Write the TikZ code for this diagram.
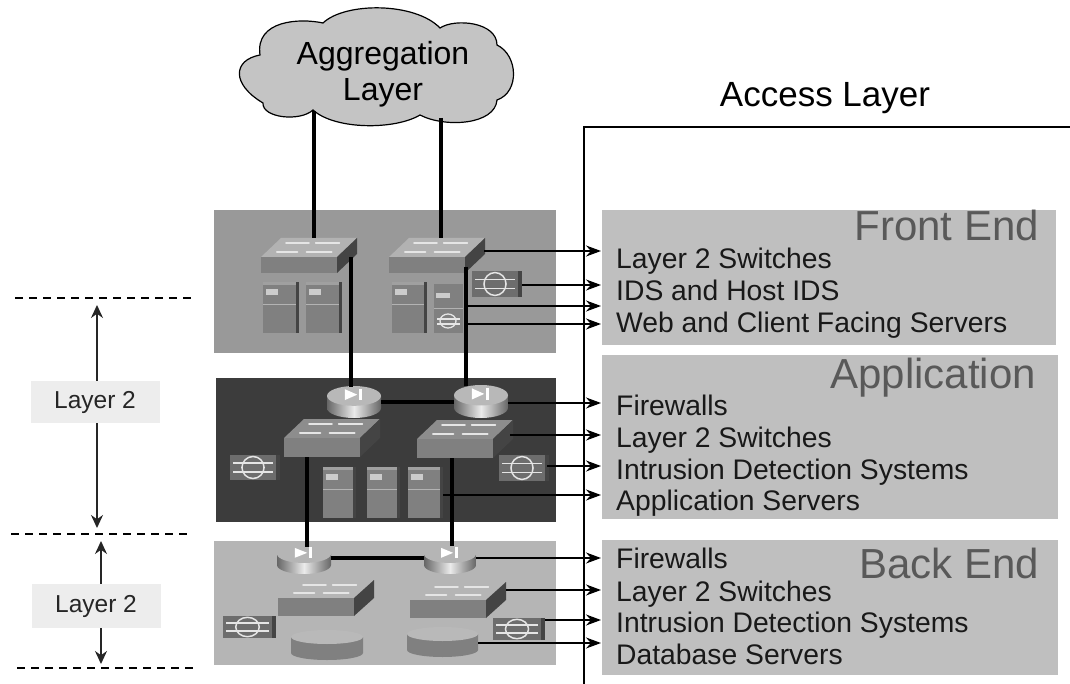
\documentclass[tikz,border=0pt]{standalone}
\usepackage{fontspec}
\setmainfont{Liberation Sans}
\usetikzlibrary{arrows.meta}
\definecolor{pfront}{HTML}{999999}
\definecolor{papp}{HTML}{3C3C3C}
\definecolor{pback}{HTML}{B5B5B5}
\definecolor{rpanel}{HTML}{BFBFBF}
\definecolor{devface}{HTML}{808080}
\definecolor{devside}{HTML}{444444}
\tikzset{
  thickline/.style={line width=3.8pt,black},
  conn/.style={line width=1.5pt,black,-{Stealth[length=15pt,width=11pt]}},
  dashline/.style={line width=2.6pt,black,dash pattern=on 8pt off 6pt},
  dim/.style={line width=1.5pt,black!85,{Stealth[length=13pt,width=12pt]}-{Stealth[length=13pt,width=12pt]}},
  listtext/.style={anchor=base west,font=\fontsize{28.3}{30}\selectfont,text=black!90,inner sep=0pt},
  headtext/.style={anchor=base east,font=\fontsize{42}{44}\selectfont,text=black!65,inner sep=0pt},
  wmark/.style={white!90!black,line width=1.9pt,line cap=round},
  labbox/.style={fill=black!7,minimum width=129pt,inner sep=0pt,font=\fontsize{24.5}{26}\selectfont,text=black!85},
}
\newcommand\panelbox[6]{\path[fill=#6] (#2,#3) rectangle (#4,#5);
  \coordinate (#1) at (#2,#3);}
% switch: name x y w h dx dy topcol
\newcommand\swt[8]{%
  \fill[#8] (#2,#3) -- ++(#4,0) -- ++(#6,-#7) -- ++(-#4,0) -- cycle;
  \fill[devface] (#2,#3) rectangle ++(#4,#5);
  \fill[devside] (#2+#4,#3) -- ++(#6,-#7) -- ++(0,#5) -- (#2+#4,#3+#5) -- cycle;
  \draw[wmark] (#2+0.21*#4,#3-0.27*#7) -- ++(0.27*#4,0) (#2+0.60*#4,#3-0.27*#7) -- ++(0.33*#4,0);
  \draw[wmark] (#2+0.33*#4,#3-0.74*#7) -- ++(0.30*#4,0) (#2+0.72*#4,#3-0.74*#7) -- ++(0.31*#4,0);
  \coordinate (#1) at (#2+0.5*#4,#3+0.5*#5);
}
% server: name x y w h
\newcommand\srv[5]{%
  \fill[devface] (#2,#3) rectangle ++(#4,#5);
  \fill[devface!75!white] (#2,#3) -- ++(#4,0) -- ++(0,3) -- ++(-#4,0) -- cycle;
  \fill[white!80!black] (#2+3,#3+7) rectangle ++(12,6);
  \draw[devface!60!white,line width=.8pt] (#2,#3+0.43*#5) -- ++(#4,0);
  \fill[devside] (#2+#4,#3) rectangle ++(3,#5);
  \coordinate (#1) at (#2+0.5*#4,#3+0.5*#5);
}
% ids: name x y w h
\newcommand\idsbox[5]{%
  \fill[devface!85!black] (#2,#3) rectangle ++(#4,#5);
  \fill[devside] (#2+#4,#3) rectangle ++(4,#5);
  \draw[white!90!black,line width=1.5pt] (#2+0.5*#4,#3+0.5*#5) ellipse ({0.24*#4} and {0.44*#5});
  \draw[white!90!black,line width=1.3pt] (#2+3,#3+0.32*#5) -- ++(#4-6,0) (#2+3,#3+0.68*#5) -- ++(#4-6,0);
  \coordinate (#1) at (#2+0.5*#4,#3+0.5*#5);
}
% router: name x y w h topcolour
\newcommand\rtr[6]{%
  \shade[left color=black!60,right color=black!60,middle color=white!92!black] (#2,#3+0.31*#5) -- (#2,#3+0.69*#5)
     arc[start angle=180,end angle=0,x radius=#4/2,y radius=0.31*#5] -- (#2+#4,#3+0.31*#5) -- cycle;
  \fill[#6] (#2+0.5*#4,#3+0.31*#5) ellipse ({#4/2} and {0.31*#5});
  \fill[white] (#2+0.33*#4,#3+0.10*#5) -- ++(0,0.34*#5) -- ++(0.23*#4,-0.17*#5) -- cycle;
  \fill[white] (#2+0.60*#4,#3+0.08*#5) rectangle ++(0.05*#4,0.36*#5);
  \coordinate (#1) at (#2+0.5*#4,#3+0.5*#5);
}
% database: name x y w h
\newcommand\dbase[5]{%
  \fill[devface] (#2,#3) -- ++(0,#5-7) arc[start angle=180,end angle=0,x radius=#4/2,y radius=7]
     -- (#2+#4,#3) -- cycle;
  \fill[pback!95!white] (#2+0.5*#4,#3) ellipse ({#4/2} and 7);
  \coordinate (#1) at (#2+0.5*#4,#3+0.5*#5);
}
\begin{document}
\begin{tikzpicture}[x=1pt,y=-1pt]
\useasboundingbox (0,0) rectangle (1070,684);
\fill[white] (0,0) rectangle (1070,684);

% access layer frame
\coordinate (frameTR) at (1070,127);
\coordinate (frameTL) at (584,127);
\coordinate (frameB) at (584,684);
\draw[line width=1.1pt] (frameTR) -- (frameTL) -- (frameB);
\node[anchor=base,inner sep=0pt,font=\fontsize{35}{37}\selectfont] (acc) at (825,107) {Access Layer};

% right panels
\panelbox{rfront}{602}{210}{1056}{345}{rpanel}
\panelbox{rapp}{602}{355}{1058}{519}{rpanel}
\panelbox{rback}{602}{540}{1058}{675}{rpanel}

% left panels
\panelbox{pf}{214}{210}{556}{353}{pfront}
\panelbox{pa}{216}{378}{556}{522}{papp}
\panelbox{pb}{214}{541}{556}{665}{pback}

% cloud
\fill[black!23,draw=black,line width=1.2pt]
 (260,55) .. controls (233,60) and (231,84) .. (263,103)
 .. controls (262,118) and (300,122) .. (313,110)
 .. controls (335,130) and (395,130) .. (420,115)
 .. controls (445,128) and (495,125) .. (497,100)
 .. controls (520,92) and (518,55) .. (497,45)
 .. controls (497,22) and (455,18) .. (440,28)
 .. controls (415,2) and (345,2) .. (323,23)
 .. controls (300,18) and (255,20) .. (260,55) -- cycle;
\node[align=center,inner sep=0pt,font=\fontsize{32}{36}\selectfont] (cloudtxt) at (383,74) {Aggregation\\Layer};
\coordinate (cloudA) at (314,111);
\coordinate (cloudB) at (441,118);

% devices: front panel
\swt{sw1}{261}{257}{76}{16}{20}{19}{pfront!75!white}
\swt{sw2}{389}{257}{76}{16}{20}{19}{pfront!75!white}
\srv{s1}{263}{282}{33}{51}
\srv{s2}{306}{282}{33}{51}
\srv{s3}{392}{282}{32}{51}
\fill[devface] (434,284) rectangle (463,333);
\fill[white!80!black] (436,293) rectangle (450,298);
\draw[white!70!black,line width=.8pt] (434,308) -- (463,308);
\draw[white!90!black,line width=1.3pt] (448,321) ellipse (8 and 7);
\draw[white!90!black,line width=1.2pt] (437,319) -- (460,319) (437,324) -- (460,324);
\idsbox{i1}{472}{271}{46}{26}

% app panel
\srv{s4}{323}{467}{30}{51}
\srv{s5}{367}{467}{30}{51}
\srv{s6}{408}{467}{32}{51}
\idsbox{i2}{230}{455}{46}{25}
\idsbox{i3}{499}{455}{46}{26}
\swt{sw3}{284}{438}{76}{19}{20}{19}{devface!90!white}
\swt{sw4}{417}{439}{76}{19}{20}{19}{devface!90!white}
\rtr{r1}{327}{386}{54}{32}{white!72!black}
\rtr{r2}{454}{385}{54}{33}{white!72!black}

% back panel
\swt{sw5}{278}{598}{76}{18}{20}{18}{pback}
\swt{sw6}{410}{600}{76}{18}{20}{18}{pback}
\dbase{d1}{291}{637}{72}{23}
\dbase{d2}{407}{634}{71}{23}
\idsbox{i4}{223}{616}{49}{22}
\idsbox{i5}{493}{618}{48}{22}
\rtr{r3}{277}{545}{54}{29}{pback}
\rtr{r4}{424}{545}{52}{29}{pback}

% thick links
\coordinate (sw1t) at (314,238);
\coordinate (sw2t) at (441,238);
\draw[thickline] (cloudA) -- (sw1t);
\draw[thickline] (cloudB) -- (sw2t);
\coordinate (sw1b) at (351,257);
\coordinate (sw2b) at (466,267);
\coordinate (r1t) at (351,387);
\coordinate (r2t) at (466,386);
\draw[thickline] (sw1b) -- (r1t);
\draw[thickline] (sw2b) -- (r2t);
\coordinate (r1e) at (381,402);
\coordinate (r2w) at (454,402);
\draw[thickline] (r1e) -- (r2w);
\coordinate (sw3b) at (307,457);
\coordinate (sw4b) at (452,458);
\coordinate (r3t) at (307,547);
\coordinate (r4t) at (452,546);
\draw[thickline] (sw3b) -- (r3t);
\draw[thickline] (sw4b) -- (r4t);
\coordinate (r3e) at (331,558);
\coordinate (r4w) at (424,558);
\draw[thickline] (r3e) -- (r4w);

% arrows
\foreach \nm/\x/\y in {a1/484/251,a2/522/285,a3/466/306,a4/466/324,
                       b1/508/403,b2/510/435,b3/547/466,b4/443/495,
                       c1/476/558,c2/506/590,c3/545/620,c4/478/643}{
  \coordinate (\nm s) at (\x,\y);
  \coordinate (\nm e) at (601,\y);
  \draw[conn] (\nm s) -- (\nm e);
}

% right panel texts
\node[headtext] (h1) at (1039,241) {Front End};
\node[listtext] (t11) at (616,269) {Layer 2 Switches};
\node[listtext] (t12) at (616,301) {IDS and Host IDS};
\node[listtext] (t13) at (616,332) {Web and Client Facing Servers};
\node[headtext] (h2) at (1036,388) {Application};
\node[listtext] (t21) at (616,415) {Firewalls};
\node[listtext] (t22) at (616,447) {Layer 2 Switches};
\node[listtext] (t23) at (616,479) {Intrusion Detection Systems};
\node[listtext] (t24) at (616,510) {Application Servers};
\node[listtext] (t31) at (616,568) {Firewalls};
\node[headtext] (h3) at (1039,578) {Back End};
\node[listtext] (t32) at (616,601) {Layer 2 Switches};
\node[listtext] (t33) at (616,632) {Intrusion Detection Systems};
\node[listtext] (t34) at (616,664) {Database Servers};

% layer markers
\coordinate (l1a) at (15,298); \coordinate (l1b) at (193,298);
\coordinate (l2a) at (11,534); \coordinate (l2b) at (189,534);
\coordinate (l3a) at (17,668); \coordinate (l3b) at (195,668);
\draw[dashline] (l1a) -- (l1b);
\draw[dashline] (l2a) -- (l2b);
\draw[dashline] (l3a) -- (l3b);
\coordinate (d1t) at (97,305); \coordinate (d1b) at (97,528);
\coordinate (d2t) at (101,541); \coordinate (d2b) at (101,664);
\draw[dim] (d1t) -- (d1b);
\draw[dim] (d2t) -- (d2b);
\node[labbox,minimum height=42pt] (lab1) at (95,402) {Layer 2\hspace{4pt}};
\node[labbox,minimum height=44pt] (lab2) at (96,606) {Layer 2\hspace{6pt}};
\end{tikzpicture}
\end{document}
